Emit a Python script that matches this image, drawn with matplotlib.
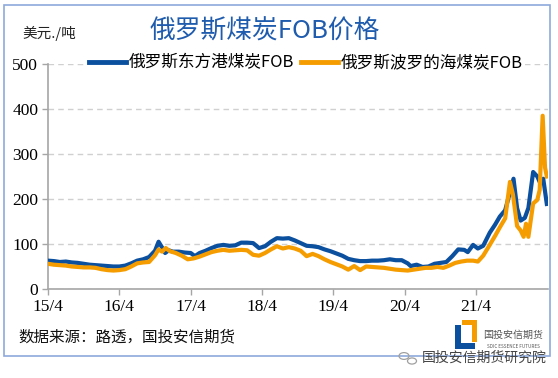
import matplotlib
matplotlib.use("Agg")
import matplotlib.pyplot as plt
from matplotlib.patches import Rectangle, Circle
import numpy as np

plt.rcParams['font.family'] = ['Noto Sans CJK SC', 'DejaVu Sans']

# months since 2015-04
east_months = [0, 1, 2, 3, 4, 5, 6, 7, 8, 9, 10, 11, 12, 13, 14, 15, 16, 17, 18, 18.6, 19.2, 19.7,
               20.3, 21, 22, 23, 24, 24.7, 25.5, 26.5, 27.5, 28.5, 29.5, 30.5, 31.5, 32.5, 33.5,
               34.5, 35.5, 36.5, 37.5, 38.5, 39.5, 40.5, 41.5, 42.5, 43.5, 44.5, 45.5, 46.5, 47.5,
               48.5, 49.5, 50.5, 51.5, 52.5, 53.5, 54.5, 55.5, 56.5, 57.5, 58.5, 59.5, 60.5, 61,
               62, 63, 64, 65, 66, 67, 68, 69, 70, 70.6, 71.5, 72.3, 73.2, 74.3, 75.2, 76, 76.9,
               77.7, 78.3, 78.9, 79.5, 80.2, 80.8, 81.6, 82.3, 82.8, 83.3, 83.9]
east_values = [63, 62, 60, 61, 59, 58, 56, 54, 53, 52, 51, 50, 50, 52, 57, 63, 66, 71, 85, 105, 92, 80,
               86, 83, 83, 81, 80, 73, 80, 85, 91, 96, 98, 96, 97, 103, 103,
               102, 91, 95, 105, 113, 112, 113, 108, 102, 96, 95, 93, 88, 84,
               79, 74, 67, 64, 62, 62, 63, 63, 64, 66, 64, 64, 57, 51,
               54, 49, 50, 56, 58, 60, 73, 88, 87, 82, 98, 90, 96, 125, 143, 161, 175,
               215, 245, 180, 152, 158, 180, 260, 250, 235, 245, 189]

baltic_months = [0, 1, 2, 3, 4, 5, 6, 7, 8, 9, 10, 11, 12, 13, 14, 15, 16, 17, 18, 18.6, 19.2, 19.8,
                 20.5, 21.5, 22.5, 23.5, 24.5, 25.5, 26.5, 27.5, 28.5, 29.5, 30.5, 31.5, 32.5, 33.5,
                 34.5, 35.5, 36.5, 37.5, 38.5, 39.5, 40.5, 41.5, 42.5, 43.5, 44.5, 45.5, 46.5, 47.5,
                 48.5, 49.5, 50.5, 51.5, 52.5, 53.5, 54.5, 55.5, 56.5, 57.5, 58.5, 59.5, 60.5, 61.5,
                 62.5, 63.5, 64.5, 65.5, 66.5, 67.5, 68.5, 69.5, 70.5, 71.5, 72.3, 73.2, 74.3, 75.2,
                 76, 76.9, 77.7, 78.2, 78.9, 79.5, 80, 80.4, 80.8, 81.6, 82.3, 82.7, 83.2, 83.6, 83.9]
baltic_values = [56, 54, 53, 52, 50, 49, 48, 48, 47, 44, 42, 41, 42, 44, 50, 57, 59, 60, 75, 88, 83, 91,
                 84, 80, 74, 66, 68, 72, 77, 82, 85, 87, 85, 86, 87, 86,
                 76, 74, 80, 88, 95, 90, 93, 90, 85, 73, 78, 73, 66, 60,
                 55, 50, 43, 51, 42, 50, 49, 48, 47, 45, 43, 42, 41, 43,
                 45, 47, 47, 49, 47, 52, 58, 61, 63, 63, 61, 74, 98, 118,
                 137, 157, 238, 210, 140, 130, 116, 145, 116, 190, 198, 220, 385, 270, 250]

series_names = ['俄罗斯东方港煤炭FOB', '俄罗斯波罗的海煤炭FOB']
x_tick_labels = ['15/4', '16/4', '17/4', '18/4', '19/4', '20/4', '21/4']
y_ticks = [0, 100, 200, 300, 400, 500]

W, H = 558, 378
fig = plt.figure(figsize=(W / 100, H / 100), dpi=100)
fig.patch.set_facecolor('white')

# border
fig.add_artist(Rectangle((4 / W, 1 - 356 / H), 546 / W, 351 / H, transform=fig.transFigure,
                         fill=False, edgecolor='#8eaadb', linewidth=1.2))

ax = fig.add_axes([48 / W, 1 - 289 / H, 500 / W, 225 / H])
ax.plot(east_months, east_values, color='#0b4f9f', lw=3.0, label=series_names[0], zorder=3)
ax.plot(baltic_months, baltic_values, color='#f59d00', lw=3.0, label=series_names[1], zorder=4)

ax.set_xlim(0, 84.1)
ax.set_ylim(0, 500)
ax.set_xticks([12 * i for i in range(len(x_tick_labels))])
ax.set_xticklabels(x_tick_labels)
ax.set_yticks(y_ticks)
ax.set_yticklabels([str(v) for v in y_ticks])
for lab in ax.get_xticklabels() + ax.get_yticklabels():
    lab.set_fontfamily('Liberation Serif')
    lab.set_fontsize(12.5)
ax.tick_params(axis='both', direction='out', length=4, color='#a6a6a6', width=1)
ax.tick_params(axis='x', pad=3)
ax.tick_params(axis='y', pad=3)
for s in ['top', 'right']:
    ax.spines[s].set_visible(False)
for s in ['left', 'bottom']:
    ax.spines[s].set_color('#a6a6a6')
    ax.spines[s].set_linewidth(1.2)
ax.yaxis.grid(True, linestyle=(0, (4, 3)), color='#d0d0d0', linewidth=1)
ax.set_axisbelow(True)
ax.patch.set_alpha(0)

leg = fig.legend(loc='center', bbox_to_anchor=(306 / W, 1 - 63 / H), ncol=2, frameon=True,
                 fontsize=12, handlelength=2.2, handletextpad=0.2, columnspacing=0.4,
                 borderpad=0.1, borderaxespad=0)
leg.get_frame().set_facecolor('white')
leg.get_frame().set_edgecolor('none')
leg.get_frame().set_alpha(1)
for line in leg.get_lines():
    line.set_linewidth(3.5)

fig.text(265 / W, 1 - 32 / H, '俄罗斯煤炭FOB价格', ha='center', va='center', fontsize=18.5,
         color='#1f5cae')
fig.text(22 / W, 1 - 33 / H, '美元./吨', ha='left', va='center', fontsize=10.5, color='#222222')
fig.text(18 / W, 1 - 337 / H, '数据来源：路透，国投安信期货', ha='left', va='center', fontsize=11.2,
         color='#111111')

# logo
fig.add_artist(Rectangle((455 / W, 1 - 349 / H), 6 / W, 24 / H, transform=fig.transFigure,
                         color='#0b4f9f', lw=0))
fig.add_artist(Rectangle((455 / W, 1 - 349 / H), 20 / W, 6 / H, transform=fig.transFigure,
                         color='#0b4f9f', lw=0))
fig.add_artist(Rectangle((462 / W, 1 - 325 / H), 15 / W, 5 / H, transform=fig.transFigure,
                         color='#f59d00', lw=0))
fig.add_artist(Rectangle((472 / W, 1 - 342 / H), 5 / W, 22 / H, transform=fig.transFigure,
                         color='#f59d00', lw=0))
fig.text(513 / W, 1 - 335 / H, '国投安信期货', ha='center', va='center', fontsize=7.2, color='#555555')
fig.text(513 / W, 1 - 346 / H, 'SDIC ESSENCE FUTURES', ha='center', va='center', fontsize=3.3,
         color='#555555')

# watermark
fig.add_artist(Circle((404 / W, 1 - 356 / H), 5 / W, transform=fig.transFigure, fill=False,
                      edgecolor='#a0a0a0', lw=0.9))
fig.add_artist(Circle((412 / W, 1 - 361 / H), 4.5 / W, transform=fig.transFigure, fill=True,
                      facecolor='white', edgecolor='#a0a0a0', lw=0.9))
fig.text(484 / W, 1 - 358 / H, '国投安信期货研究院', ha='center', va='center', fontsize=10,
         color='#444444')

fig.savefig('out.png', dpi=100, facecolor='white')
